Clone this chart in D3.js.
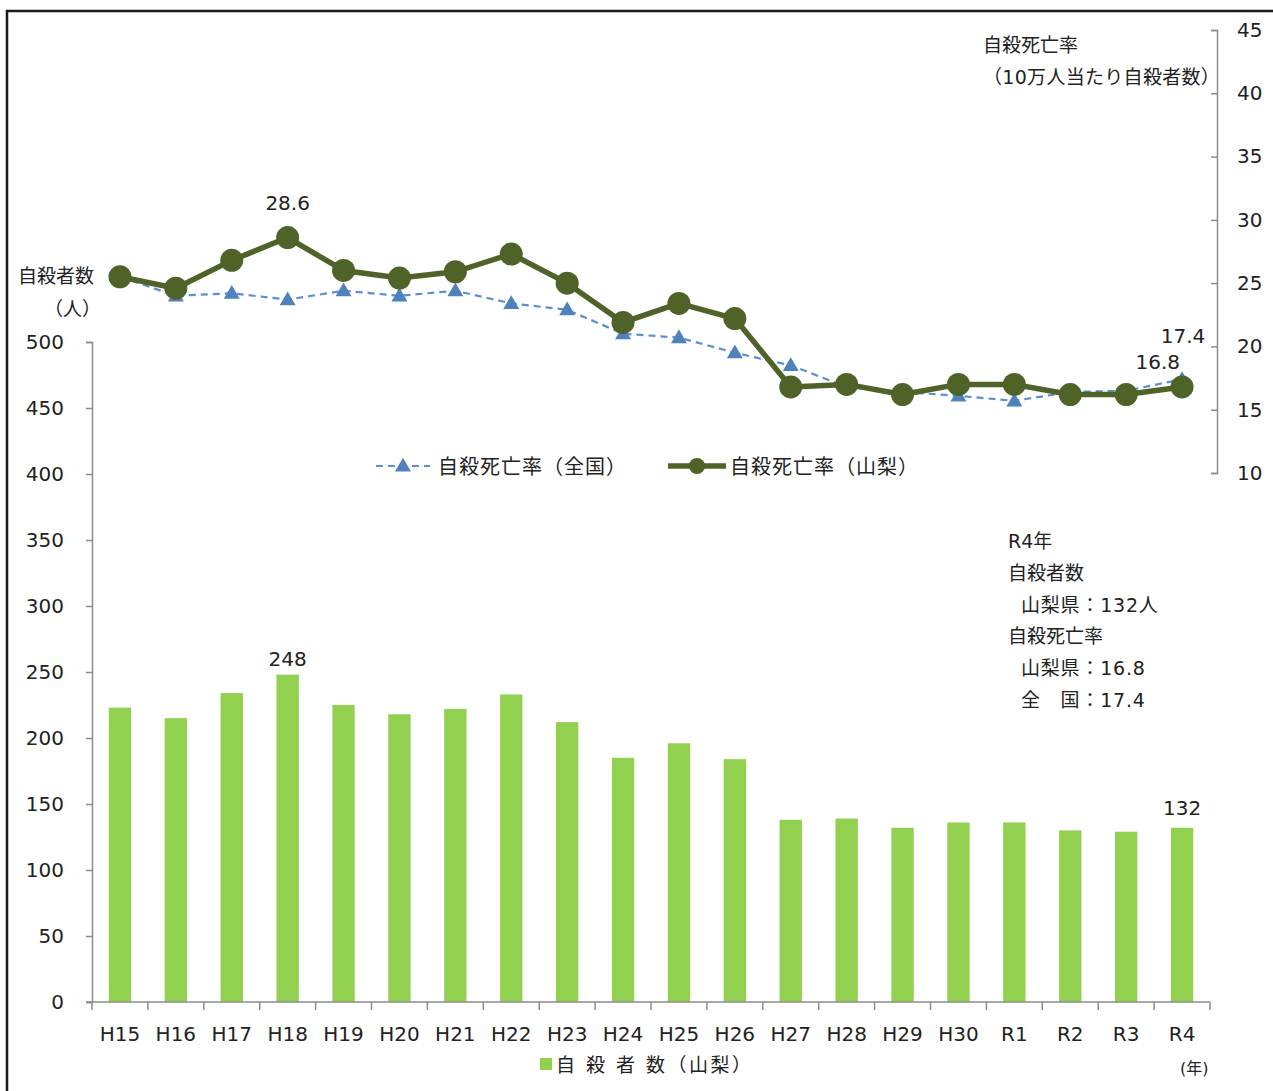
<!DOCTYPE html>
<html>
<head>
<meta charset="utf-8">
<script src="https://cdn.jsdelivr.net/npm/d3@7"></script>
<style>
  body { margin: 0; background: #fff; }
  svg text { font-family: "DejaVu Sans", "Noto Sans CJK JP", sans-serif; fill: #222; }
</style>
</head>
<body>
<div id="chart"></div>
<script>
const YEARS = ["H15","H16","H17","H18","H19","H20","H21","H22","H23","H24",
               "H25","H26","H27","H28","H29","H30","R1","R2","R3","R4"];
const COUNT_YAMANASHI = [223,215,234,248,225,218,222,233,212,185,
                         196,184,138,139,132,136,136,130,129,132];
const RATE_YAMANASHI = [25.5,24.6,26.8,28.6,26.0,25.4,25.9,27.3,25.0,21.9,
                        23.4,22.2,16.8,17.0,16.2,17.0,17.0,16.2,16.2,16.8];
const RATE_NATIONAL = [25.5,24.0,24.2,23.7,24.4,24.0,24.4,23.4,22.9,21.0,
                       20.7,19.5,18.5,16.8,16.4,16.1,15.7,16.4,16.5,17.4];
const LEFT_TICKS = [0,50,100,150,200,250,300,350,400,450,500];
const RIGHT_TICKS = [10,15,20,25,30,35,40,45];
const NOTE_LINES = ["R4年","自殺者数","山梨県：132人","自殺死亡率","山梨県：16.8","全　国：17.4"];
const NOTE_INDENT = [0,0,1,0,1,1];

const W = 1273, H = 1091;
const BAR = "#92D050", OLIVE = "#4F6228", BLUE = "#4F81BD", AXIS = "#8c8c8c";

const svg = d3.select("#chart").append("svg")
  .attr("width", W).attr("height", H);

// frame
svg.append("rect")
  .attr("x", 7).attr("y", 11).attr("width", 1300).attr("height", 1120)
  .attr("fill", "none").attr("stroke", "#1a1a1a").attr("stroke-width", 2.5);

const x = d3.scaleBand().domain(YEARS).range([92, 1210])
  .paddingInner(0.6).paddingOuter(0.3);
const yL = d3.scaleLinear().domain([0, 500]).range([1002, 342]);
const yR = d3.scaleLinear().domain([10, 45]).range([473, 30]);
const cx = d => x(d) + x.bandwidth() / 2;

// bars
svg.append("g").selectAll("rect")
  .data(YEARS)
  .join("rect")
  .attr("x", d => x(d))
  .attr("width", x.bandwidth())
  .attr("y", (d, i) => yL(COUNT_YAMANASHI[i]))
  .attr("height", (d, i) => yL(0) - yL(COUNT_YAMANASHI[i]))
  .attr("fill", BAR);

// left axis
const gL = svg.append("g")
  .attr("transform", "translate(92,0)")
  .call(d3.axisLeft(yL).tickValues(LEFT_TICKS).tickSizeInner(6).tickSizeOuter(6).tickPadding(22));
gL.selectAll("path, line").attr("stroke", AXIS).attr("stroke-width", 1.5);
gL.selectAll("text").attr("font-size", "20px").style("font-family", null);

// right axis, ticks pointing inward
const gR = svg.append("g")
  .attr("transform", "translate(1217,0)")
  .call(d3.axisRight(yR).tickValues(RIGHT_TICKS).tickSizeInner(-6).tickSizeOuter(-6).tickPadding(20));
gR.selectAll("path, line").attr("stroke", AXIS).attr("stroke-width", 1.5);
gR.selectAll("text").attr("font-size", "20px").style("font-family", null);

// x axis
const step = x.step();
const xEnd = x(YEARS[YEARS.length - 1]) + x.bandwidth() + step * 0.3;
const gX = svg.append("g");
gX.append("line")
  .attr("x1", 86).attr("x2", xEnd)
  .attr("y1", yL(0)).attr("y2", yL(0))
  .attr("stroke", AXIS).attr("stroke-width", 1.5);
const bounds = YEARS.map(d => x(d) - step * 0.3).concat([xEnd]);
gX.selectAll(".xt").data(bounds).join("line")
  .attr("x1", d => d).attr("x2", d => d)
  .attr("y1", yL(0)).attr("y2", yL(0) + 8)
  .attr("stroke", AXIS).attr("stroke-width", 1.5);
gX.selectAll(".xl").data(YEARS).join("text")
  .attr("x", d => cx(d)).attr("y", 1041)
  .attr("text-anchor", "middle").attr("font-size", "20px")
  .text(d => d);

// national rate: dashed line with triangles
const lineN = d3.line().x((d, i) => cx(YEARS[i])).y(d => yR(d));
svg.append("path")
  .datum(RATE_NATIONAL)
  .attr("d", lineN)
  .attr("fill", "none").attr("stroke", "#5b8fd0")
  .attr("stroke-width", 2.2).attr("stroke-dasharray", "7,5");
const tri = d3.symbol().type(d3.symbolTriangle).size(110);
svg.append("g").selectAll("path")
  .data(RATE_NATIONAL)
  .join("path")
  .attr("d", tri)
  .attr("transform", (d, i) => `translate(${cx(YEARS[i])},${yR(d) + 1})`)
  .attr("fill", BLUE);

// Yamanashi rate: thick line with circles
svg.append("path")
  .datum(RATE_YAMANASHI)
  .attr("d", lineN)
  .attr("fill", "none").attr("stroke", OLIVE)
  .attr("stroke-width", 5.5).attr("stroke-linejoin", "round");
svg.append("g").selectAll("circle")
  .data(RATE_YAMANASHI)
  .join("circle")
  .attr("cx", (d, i) => cx(YEARS[i]))
  .attr("cy", d => yR(d))
  .attr("r", 11.5)
  .attr("fill", OLIVE);

// data labels
const iH18 = YEARS.indexOf("H18"), iR4 = YEARS.indexOf("R4");
svg.append("text")
  .attr("x", cx("H18")).attr("y", yR(RATE_YAMANASHI[iH18]) - 28)
  .attr("text-anchor", "middle").attr("font-size", "20px")
  .text(RATE_YAMANASHI[iH18].toFixed(1));
svg.append("text")
  .attr("x", cx("R4") - 2).attr("y", yR(RATE_YAMANASHI[iR4]) - 18)
  .attr("text-anchor", "end").attr("font-size", "20px")
  .text(RATE_YAMANASHI[iR4].toFixed(1));
svg.append("text")
  .attr("x", cx("R4") + 1).attr("y", yR(RATE_NATIONAL[iR4]) - 36)
  .attr("text-anchor", "middle").attr("font-size", "20px")
  .text(RATE_NATIONAL[iR4].toFixed(1));
svg.append("text")
  .attr("x", cx("H18")).attr("y", yL(COUNT_YAMANASHI[iH18]) - 9)
  .attr("text-anchor", "middle").attr("font-size", "20px")
  .text(COUNT_YAMANASHI[iH18]);
svg.append("text")
  .attr("x", cx("R4")).attr("y", yL(COUNT_YAMANASHI[iR4]) - 13)
  .attr("text-anchor", "middle").attr("font-size", "20px")
  .text(COUNT_YAMANASHI[iR4]);

// axis titles
svg.append("text").attr("x", 18).attr("y", 283).attr("font-size", "19px").text("自殺者数");
svg.append("text").attr("x", 44).attr("y", 316).attr("font-size", "19px").text("（人）");
svg.append("text").attr("x", 983).attr("y", 52).attr("font-size", "19px").text("自殺死亡率");
svg.append("text").attr("x", 983).attr("y", 84).attr("font-size", "19px")
  .attr("letter-spacing", "0.3px").text("（10万人当たり自殺者数）");
svg.append("text").attr("x", 1180).attr("y", 1074).attr("font-size", "16px").text("(年)");

// line legend
const lg = svg.append("g");
lg.append("line").attr("x1", 376).attr("x2", 430).attr("y1", 466).attr("y2", 466)
  .attr("stroke", "#5b8fd0").attr("stroke-width", 2.2).attr("stroke-dasharray", "7,5");
lg.append("path").attr("d", tri).attr("transform", "translate(403,467)").attr("fill", BLUE);
lg.append("text").attr("x", 438).attr("y", 474).attr("font-size", "20px")
  .attr("letter-spacing", "1px").text("自殺死亡率（全国）");
lg.append("line").attr("x1", 668).attr("x2", 726).attr("y1", 466).attr("y2", 466)
  .attr("stroke", OLIVE).attr("stroke-width", 5.5);
lg.append("circle").attr("cx", 697).attr("cy", 466).attr("r", 8).attr("fill", OLIVE);
lg.append("text").attr("x", 730).attr("y", 474).attr("font-size", "20px")
  .attr("letter-spacing", "1px").text("自殺死亡率（山梨）");

// bar legend
svg.append("rect").attr("x", 540).attr("y", 1058).attr("width", 12).attr("height", 12).attr("fill", BAR);
svg.append("text").attr("x", 556).attr("y", 1072).attr("font-size", "19px")
  .attr("letter-spacing", "2.5px").text("自 殺 者 数（山梨）");

// R4 note
svg.append("g").selectAll("text")
  .data(NOTE_LINES)
  .join("text")
  .attr("x", (d, i) => NOTE_INDENT[i] ? 1021 : 1008)
  .attr("y", (d, i) => 548 + i * 31.8)
  .attr("font-size", "19px")
  .attr("letter-spacing", (d, i) => NOTE_INDENT[i] ? "0.8px" : null)
  .text(d => d);
</script>
</body>
</html>
